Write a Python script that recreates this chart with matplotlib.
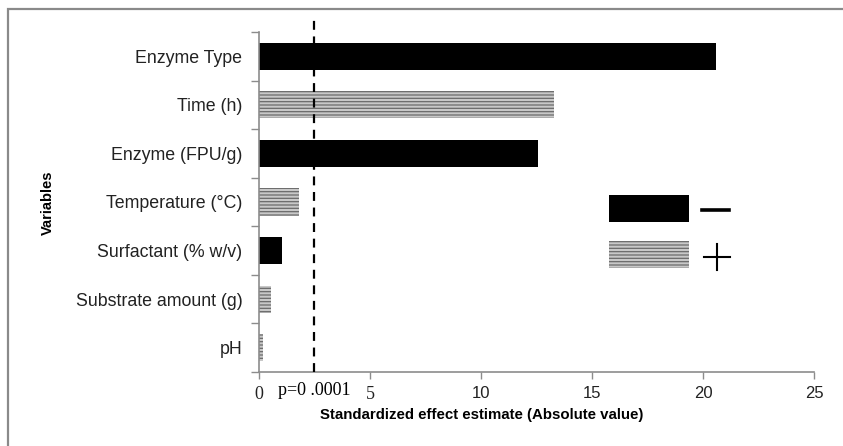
import numpy as np
import matplotlib
matplotlib.use("Agg")
import matplotlib.pyplot as plt
from matplotlib.patches import Rectangle
from matplotlib.lines import Line2D
from matplotlib.transforms import ScaledTranslation

# Données (de bas en haut)
variables = ["pH", "Substrate amount (g)", "Surfactant (% w/v)", "Temperature (°C)",
             "Enzyme (FPU/g)", "Time (h)", "Enzyme Type"]
effets = [0.17, 0.52, 1.02, 1.78, 12.58, 13.3, 20.57]
signes = ["+", "+", "-", "+", "-", "+", "-"]
seuil_p = 2.47
xticks = [0, 5, 10, 15, 20, 25]

plt.rcParams['font.family'] = ['Liberation Sans', 'DejaVu Sans']
plt.rcParams['hatch.color'] = '#6a6a6a'
plt.rcParams['hatch.linewidth'] = 0.9

fig = plt.figure(figsize=(8.43, 4.46), dpi=100)
ax = fig.add_axes([259/843, 1 - 372/446, 555/843, 340/446])

ypos = np.arange(len(variables))
for y, v, s in zip(ypos, effets, signes):
    if s == "-":
        ax.barh(y, v, height=0.56, color='black', linewidth=0, zorder=2)
    else:
        ax.barh(y, v, height=0.56, color='#c8c8c8', edgecolor='#6a6a6a', linewidth=0,
                hatch='-----', zorder=2)

# ligne de significativité
ax.axvline(seuil_p, ymin=0, ymax=357/340, color='black', linestyle=(0, (4, 3)),
           linewidth=1.6, clip_on=False, zorder=3)

ax.set_xlim(0, 25)
ax.set_ylim(-0.5, len(variables) - 0.5)
ax.set_xticks(xticks)
ax.set_xticklabels([str(t) for t in xticks], fontsize=12, color='#222222')
for lab in ax.get_xticklabels():
    if lab.get_text() in ("0", "5"):
        lab.set_family('Liberation Serif')
        lab.set_fontsize(13)
ax.set_yticks(np.arange(-0.5, len(variables), 1))
ax.set_yticklabels([])
ax.set_yticks(ypos, labels=variables, minor=True)
ax.tick_params(axis='y', which='minor', length=0, pad=12, labelsize=12.8, labelcolor='#222222')
ax.tick_params(axis='y', which='major', length=6, color='#8c8c8c', width=1)
ax.tick_params(axis='x', length=5, color='#8c8c8c', width=1, pad=5)

for side in ('top', 'right'):
    ax.spines[side].set_visible(False)
for side in ('left', 'bottom'):
    ax.spines[side].set_color('#8c8c8c')
    ax.spines[side].set_linewidth(1.2)

# texte p=0.0001
ax.text(seuil_p, -0.5, "p=0 .0001", ha='center', va='top', fontsize=13, family='Liberation Serif',
        transform=ax.transData + ScaledTranslation(0, -0.10, fig.dpi_scale_trans))

fig.text(482/843, 1 - 415/446, "Standardized effect estimate (Absolute value)",
         ha='center', va='center', fontsize=10.8, fontweight='bold')
fig.text(48/843, 1 - 203/446, "Variables", rotation=90, ha='center', va='center',
         fontsize=10.5, fontweight='bold')

# légende manuelle (signe de l'effet)
ax.add_patch(Rectangle((0.6306, 0.441), 0.1442, 0.0796, transform=ax.transAxes,
                       facecolor='black', linewidth=0, clip_on=False))
ax.add_patch(Rectangle((0.6306, 0.3059), 0.1442, 0.0794, transform=ax.transAxes,
                       facecolor='#c8c8c8', linewidth=0, hatch='-----', clip_on=False))
ax.add_line(Line2D([0.798, 0.847], [0.476, 0.476], transform=ax.transAxes, color='black', linewidth=2.6))
ax.add_line(Line2D([0.801, 0.849], [0.338, 0.338], transform=ax.transAxes, color='black', linewidth=1.5))
ax.add_line(Line2D([0.825, 0.825], [0.3, 0.376], transform=ax.transAxes, color='black', linewidth=1.5))

# cadre extérieur
fig.add_artist(Rectangle((8/843, -0.1), 1.2, 1 - 9/446 + 0.1, transform=fig.transFigure,
                         fill=False, edgecolor='#8a8a8a', linewidth=1.6, clip_on=False))

fig.savefig("out.png", dpi=100)
